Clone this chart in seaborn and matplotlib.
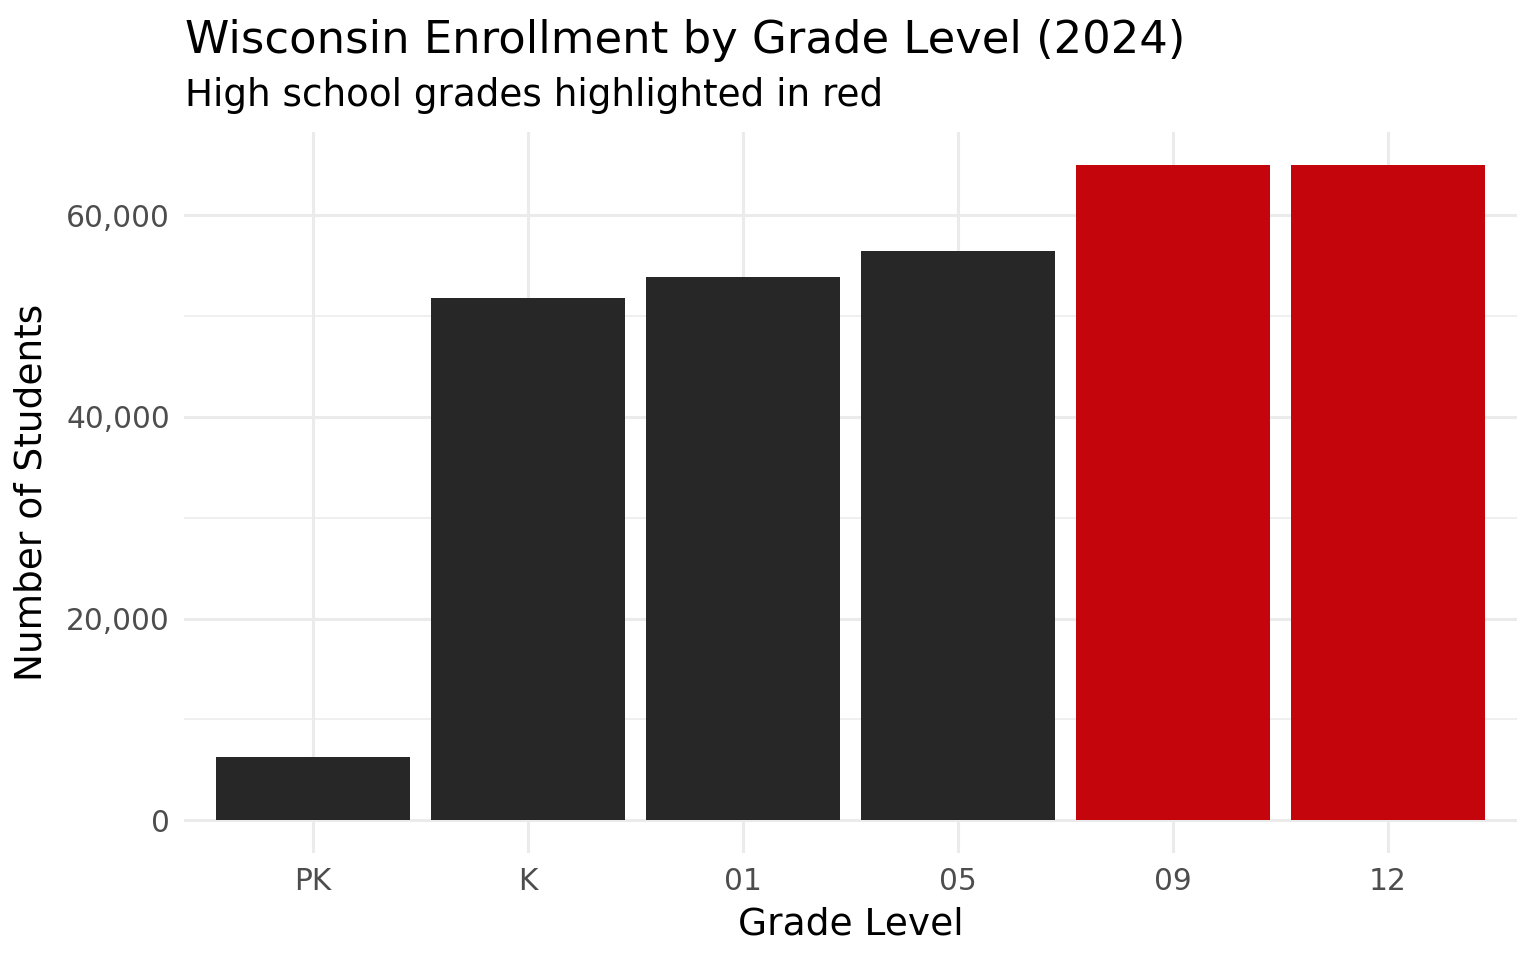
import matplotlib
matplotlib.use("Agg")
import matplotlib.pyplot as plt
import matplotlib.ticker as mticker
import numpy as np
import pandas as pd
import seaborn as sns

grades = ["PK", "K", "01", "05", "09", "12"]
students = [6300, 51800, 53900, 56400, 65000, 65000]
high_school = [False, False, False, False, True, True]

df = pd.DataFrame({"grade": grades, "students": students,
                   "hs": ["High school" if h else "Other" for h in high_school]})

sns.set_theme(style="white")
plt.rcParams["font.family"] = ["DejaVu Sans"]

fig = plt.figure(figsize=(15.36, 9.6), dpi=100)
ax = fig.add_axes([0.1198, 0.1115, 0.8678, 0.751])

sns.barplot(data=df, x="grade", y="students", hue="hs", order=grades,
            palette={"Other": "#282728", "High school": "#C5050C"},
            width=0.9, dodge=False, legend=False, saturation=1,
            linewidth=0, ax=ax)

ax.set_xlim(-0.6, len(grades) - 0.4)
ax.set_ylim(-3250, 68250)
ax.yaxis.set_major_locator(mticker.MultipleLocator(20000))
ax.yaxis.set_minor_locator(mticker.MultipleLocator(10000))
ax.yaxis.set_major_formatter(mticker.FuncFormatter(lambda v, p: f"{int(v):,}"))

ax.grid(which="major", axis="both", color="#EBEBEB", linewidth=2.2)
ax.grid(which="minor", axis="y", color="#EBEBEB", linewidth=1.1)
ax.set_axisbelow(True)
for s in ax.spines.values():
    s.set_visible(False)
ax.tick_params(axis="both", which="both", length=0, labelsize=21.3,
               labelcolor="#4D4D4D", pad=10)

ax.set_xlabel("Grade Level", fontsize=27, color="black", labelpad=8)
ax.set_ylabel("Number of Students", fontsize=27, color="black", labelpad=12)

fig.text(0.1205, 0.945, "Wisconsin Enrollment by Grade Level (2024)",
         fontsize=32.3, ha="left", va="baseline", color="black")
fig.text(0.1205, 0.89, "High school grades highlighted in red",
         fontsize=26.9, ha="left", va="baseline", color="black")

fig.savefig("out.png", dpi=100)
